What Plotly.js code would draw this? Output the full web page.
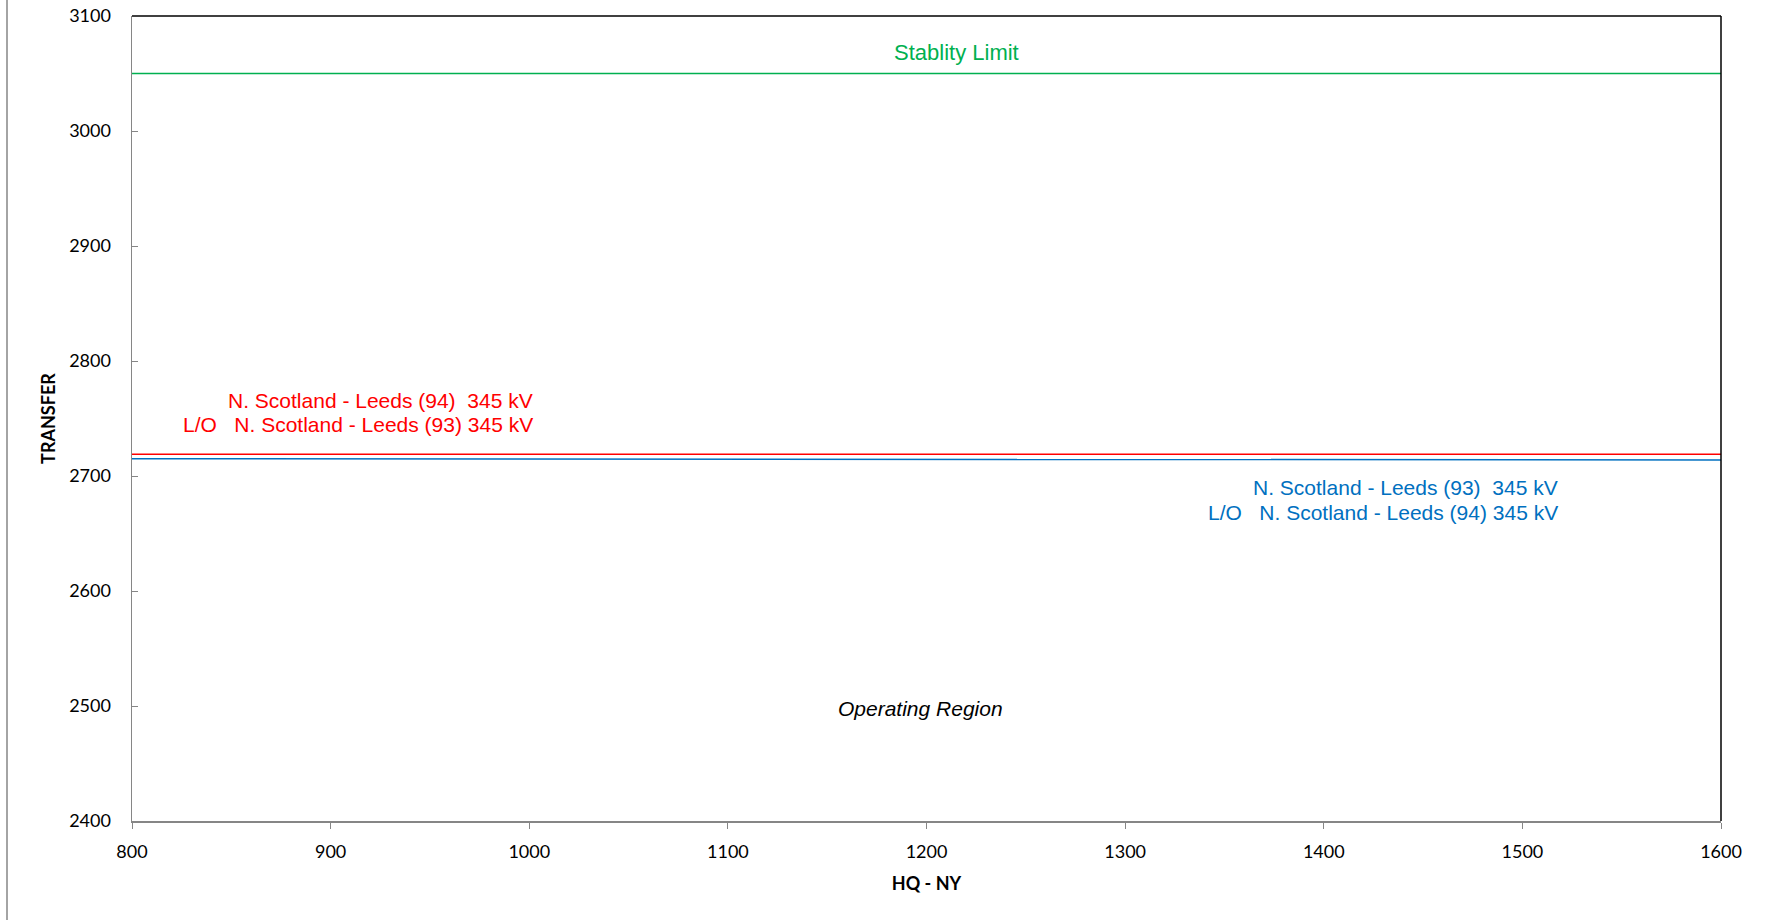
<!DOCTYPE html>
<html>
<head>
<meta charset="utf-8">
<script src="https://cdn.plot.ly/plotly-3.0.1.min.js"></script>
<style>html,body{margin:0;padding:0;background:#fff;}#chart{width:1766px;height:920px;}</style>
</head>
<body>
<div id="chart"></div>
<script>
// Data
const xRange = [800, 1600];
const stabilityY = [3050, 3050];
const redLimitY = [2719, 2719];
const blueLimitY = [2715, 2714];
const xTicks = [800, 900, 1000, 1100, 1200, 1300, 1400, 1500, 1600];
const yTicks = [2400, 2500, 2600, 2700, 2800, 2900, 3000, 3100];

const GREEN = '#00B050', RED = '#FF0000', BLUE = '#0070C0', GRAY = '#868686';
const W = 1766, H = 920;
const M = {l: 132, r: 45, t: 16, b: 99};
const pw = W - M.l - M.r, ph = H - M.t - M.b;

const traces = [
  {x: xRange, y: stabilityY, mode: 'lines', line: {color: GREEN, width: 1.5}, hoverinfo: 'skip'},
  {x: xRange, y: redLimitY, mode: 'lines', line: {color: RED, width: 1.5}, hoverinfo: 'skip'},
  {x: xRange, y: blueLimitY, mode: 'lines', line: {color: BLUE, width: 1.5}, hoverinfo: 'skip'}
];

const annFont = (c, s, ital) => ({family: 'Liberation Sans, Arial, sans-serif', size: s, color: c, style: ital ? 'italic' : 'normal'});
const annotations = [
  {x: 1215, y: 3068, xref: 'x', yref: 'y', text: 'Stablity Limit', showarrow: false, xanchor: 'center', yanchor: 'middle', font: annFont(GREEN, 22)},
  {x: 1003, y: 2766, xref: 'x', yref: 'y', text: 'N. Scotland - Leeds (94)\u00a0 345 kV', showarrow: false, xanchor: 'right', yanchor: 'middle', font: annFont(RED, 21)},
  {x: 1003, y: 2745, xref: 'x', yref: 'y', text: 'L/O\u00a0\u00a0 N. Scotland - Leeds (93) 345 kV', showarrow: false, xanchor: 'right', yanchor: 'middle', font: annFont(RED, 21)},
  {x: 1519, y: 2690, xref: 'x', yref: 'y', text: 'N. Scotland - Leeds (93)\u00a0 345 kV', showarrow: false, xanchor: 'right', yanchor: 'middle', font: annFont(BLUE, 21)},
  {x: 1519, y: 2668, xref: 'x', yref: 'y', text: 'L/O\u00a0\u00a0 N. Scotland - Leeds (94) 345 kV', showarrow: false, xanchor: 'right', yanchor: 'middle', font: annFont(BLUE, 21)},
  {x: 1197, y: 2498, xref: 'x', yref: 'y', text: 'Operating Region', showarrow: false, xanchor: 'center', yanchor: 'middle', font: annFont('#000', 21, true)}
];

const shapes = [
  // top and right black frame
  {type: 'line', xref: 'paper', yref: 'paper', x0: 0, x1: 1, y0: 1, y1: 1, line: {color: '#000', width: 1.5}},
  {type: 'line', xref: 'paper', yref: 'paper', x0: 1, x1: 1, y0: 0, y1: 1, line: {color: '#000', width: 1.5}},
  // outer left frame line
  {type: 'line', xref: 'paper', yref: 'paper', x0: (7 - M.l) / pw, x1: (7 - M.l) / pw, y0: -M.b / ph, y1: 1 + M.t / ph, line: {color: GRAY, width: 1.5}}
];

const tickFont = {family: 'Lato, Carlito, sans-serif', size: 18, color: '#000'};
const layout = {
  width: W, height: H,
  margin: M,
  paper_bgcolor: '#fff', plot_bgcolor: '#fff',
  showlegend: false,
  xaxis: {
    range: xRange, tickvals: xTicks, ticktext: xTicks.map(String),
    showgrid: false, zeroline: false,
    showline: true, linecolor: GRAY, linewidth: 1.5,
    ticks: 'outside', ticklen: 6, tickcolor: GRAY, tickwidth: 1,
    tickfont: tickFont, ticklabelstandoff: 8,
    title: {text: '<b>HQ - NY</b>', font: {family: 'Lato, Carlito, sans-serif', size: 18, color: '#000'}, standoff: 16}
  },
  yaxis: {
    range: [2400, 3100], tickvals: yTicks, ticktext: yTicks.map(String),
    showgrid: false, zeroline: false,
    showline: true, linecolor: GRAY, linewidth: 1.5,
    ticks: 'inside', ticklen: 6, tickcolor: GRAY, tickwidth: 1,
    tickfont: tickFont, ticklabelstandoff: 16,
    title: {text: '<b>TRANSFER</b>', font: {family: 'Lato, Carlito, sans-serif', size: 18, color: '#000'}, standoff: 9}
  },
  annotations: annotations,
  shapes: shapes
};

Plotly.newPlot('chart', traces, layout, {displayModeBar: false, staticPlot: true});
</script>
</body>
</html>
